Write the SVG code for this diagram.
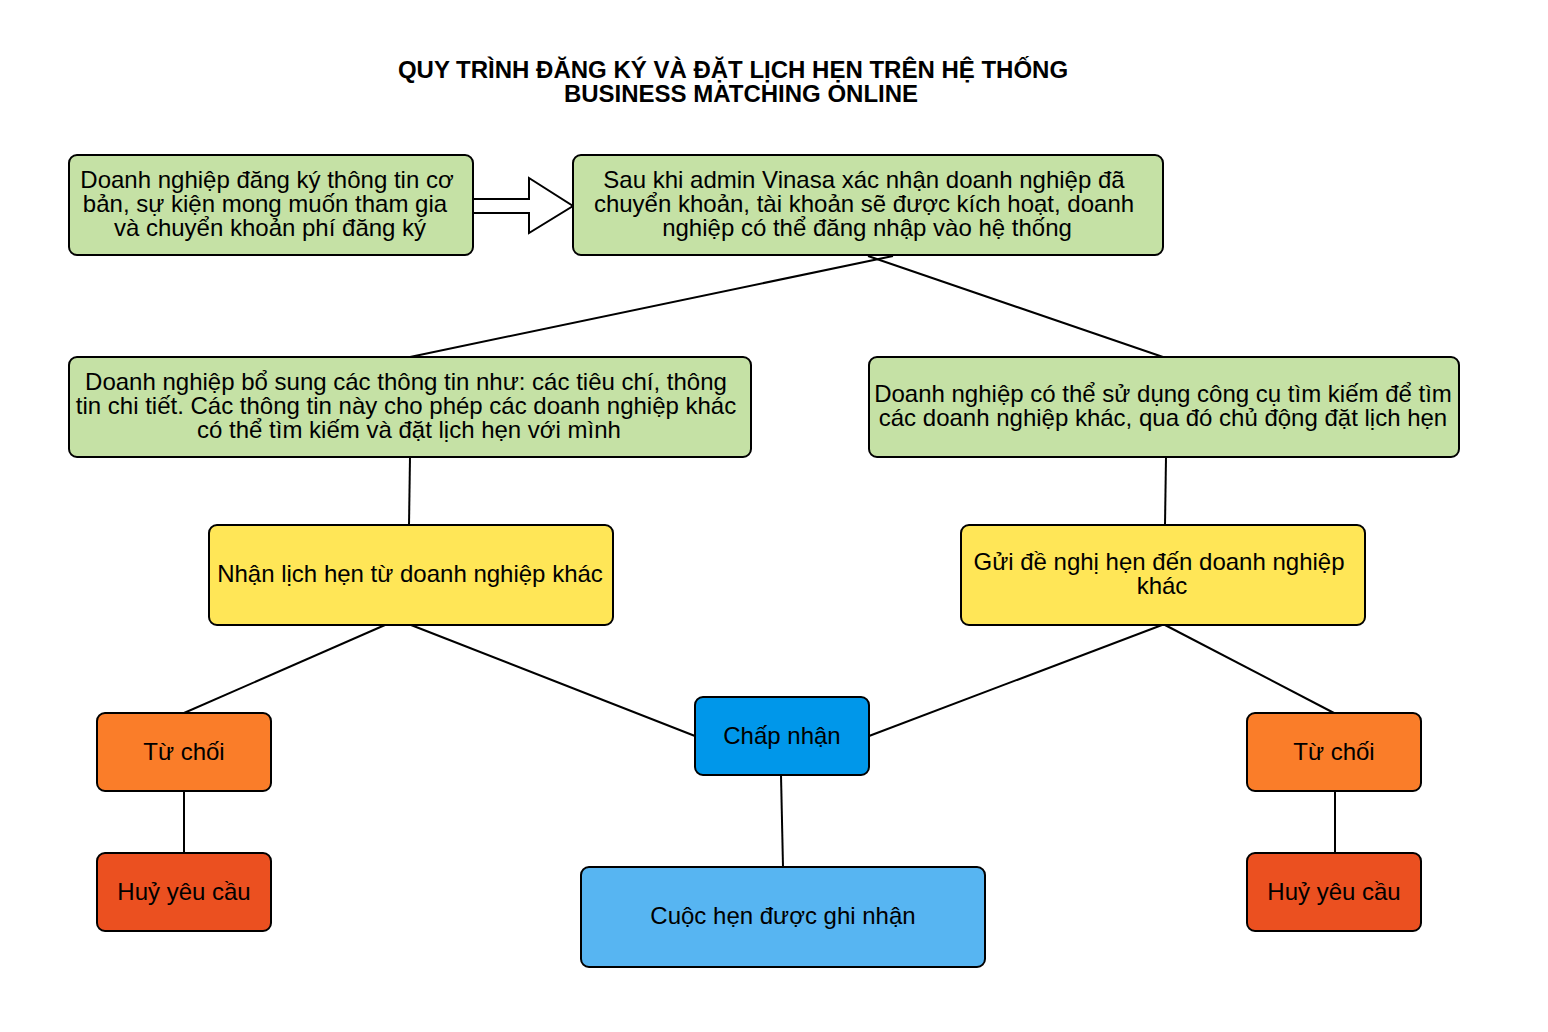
<svg xmlns="http://www.w3.org/2000/svg" width="1548" height="1032" viewBox="0 0 1548 1032">
<style>
.n{stroke:#000;stroke-width:2}
.g{fill:#C5E1A5}.y{fill:#FFE657}.o{fill:#FA7D29}.r{fill:#EB5020}.b{fill:#0097EA}.lb{fill:#57B5F2}
text{font-family:"Liberation Sans",Arial,sans-serif;font-size:24px;fill:#000;text-anchor:middle}
.t{font-weight:bold;font-size:24px}
.c line{stroke:#000;stroke-width:2}
</style>
<rect width="1548" height="1032" fill="#fff"/>
<g id="title">
<text class="t" x="733" y="78">QUY TRÌNH ĐĂNG KÝ VÀ ĐẶT LỊCH HẸN TRÊN HỆ THỐNG</text>
<text class="t" x="741" y="102">BUSINESS MATCHING ONLINE</text>
</g>
<g class="c" id="connectors">
<path d="M473,199 H529 V178 L573,206 L529,233 V213 H473 Z" fill="#fff" stroke="#000" stroke-width="2"/>
<line x1="893" y1="256" x2="410" y2="357"/>
<line x1="868" y1="256" x2="1163" y2="357"/>
<line x1="410" y1="457" x2="409" y2="525"/>
<line x1="1166" y1="457" x2="1165" y2="525"/>
<line x1="385" y1="625" x2="184" y2="713"/>
<line x1="411" y1="625" x2="695" y2="736"/>
<line x1="1162" y1="625" x2="869" y2="736"/>
<line x1="1165" y1="625" x2="1334" y2="713"/>
<line x1="184" y1="791" x2="184" y2="853"/>
<line x1="1335" y1="791" x2="1335" y2="853"/>
<line x1="781" y1="775" x2="783" y2="867"/>
</g>
<g id="n1"><rect class="n g" x="69" y="155" width="404" height="100" rx="8"/>
<text x="267" y="188">Doanh nghiệp đăng ký thông tin cơ</text>
<text x="265" y="212">bản, sự kiện mong muốn tham gia</text>
<text x="270" y="236">và chuyển khoản phí đăng ký</text></g>
<g id="n2"><rect class="n g" x="573" y="155" width="590" height="100" rx="8"/>
<text x="864" y="188">Sau khi admin Vinasa xác nhận doanh nghiệp đã</text>
<text x="864" y="212">chuyển khoản, tài khoản sẽ được kích hoạt, doanh</text>
<text x="867" y="236">nghiệp có thể đăng nhập vào hệ thống</text></g>
<g id="n3"><rect class="n g" x="69" y="357" width="682" height="100" rx="8"/>
<text x="406" y="390">Doanh nghiệp bổ sung các thông tin như: các tiêu chí, thông</text>
<text x="406" y="414">tin chi tiết. Các thông tin này cho phép các doanh nghiệp khác</text>
<text x="409" y="438">có thể tìm kiếm và đặt lịch hẹn với mình</text></g>
<g id="n4"><rect class="n g" x="869" y="357" width="590" height="100" rx="8"/>
<text x="1163" y="402">Doanh nghiệp có thể sử dụng công cụ tìm kiếm để tìm</text>
<text x="1163" y="426">các doanh nghiệp khác, qua đó chủ động đặt lịch hẹn</text></g>
<g id="n5"><rect class="n y" x="209" y="525" width="404" height="100" rx="8"/>
<text x="410" y="582">Nhận lịch hẹn từ doanh nghiệp khác</text></g>
<g id="n6"><rect class="n y" x="961" y="525" width="404" height="100" rx="8"/>
<text x="1159" y="570">Gửi đề nghị hẹn đến doanh nghiệp</text>
<text x="1162" y="594">khác</text></g>
<g id="n7"><rect class="n o" x="97" y="713" width="174" height="78" rx="8"/>
<text x="184" y="760">Từ chối</text></g>
<g id="n8"><rect class="n r" x="97" y="853" width="174" height="78" rx="8"/>
<text x="184" y="900">Huỷ yêu cầu</text></g>
<g id="n9"><rect class="n b" x="695" y="697" width="174" height="78" rx="8"/>
<text x="782" y="744">Chấp nhận</text></g>
<g id="n10"><rect class="n lb" x="581" y="867" width="404" height="100" rx="8"/>
<text x="783" y="924">Cuộc hẹn được ghi nhận</text></g>
<g id="n11"><rect class="n o" x="1247" y="713" width="174" height="78" rx="8"/>
<text x="1334" y="760">Từ chối</text></g>
<g id="n12"><rect class="n r" x="1247" y="853" width="174" height="78" rx="8"/>
<text x="1334" y="900">Huỷ yêu cầu</text></g>
</svg>
